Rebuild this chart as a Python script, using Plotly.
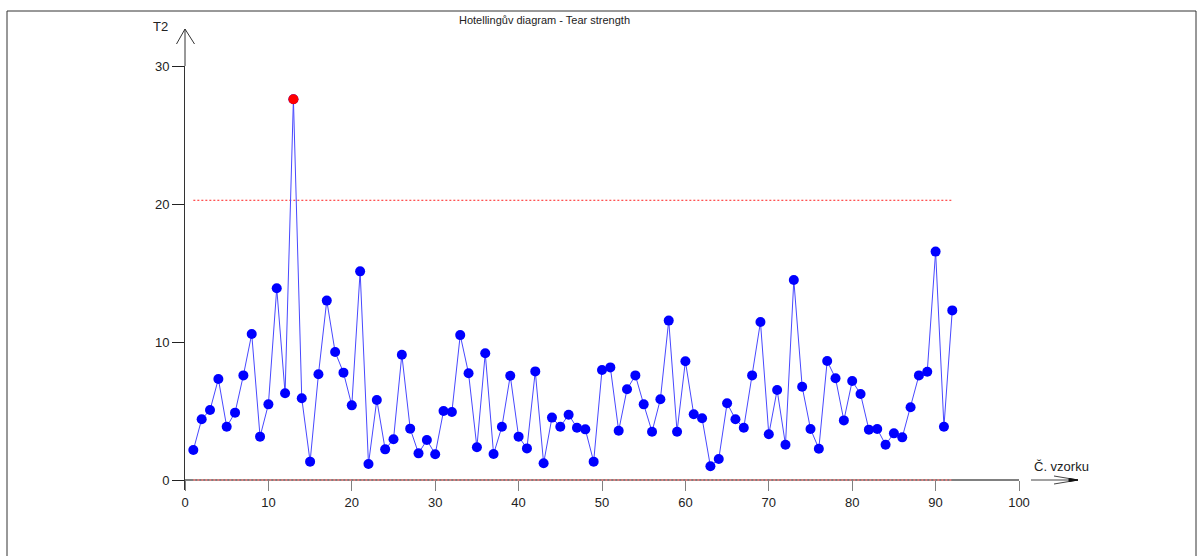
import plotly.graph_objects as go

# ---- data ----
sample_no = list(range(1, 93))
t2_values = [
    2.17, 4.40, 5.07, 7.32, 3.86, 4.88, 7.58, 10.58, 3.14, 5.48,
    13.89, 6.28, 27.59, 5.92, 1.33, 7.66, 13.00, 9.28, 7.78, 5.41,
    15.12, 1.16, 5.80, 2.22, 2.95, 9.08, 3.72, 1.93, 2.90, 1.87,
    5.00, 4.93, 10.50, 7.73, 2.37, 9.18, 1.88, 3.86, 7.56, 3.14,
    2.29, 7.87, 1.21, 4.52, 3.86, 4.73, 3.79, 3.67, 1.33, 7.97,
    8.16, 3.57, 6.57, 7.58, 5.48, 3.50, 5.85, 11.55, 3.50, 8.60,
    4.76, 4.47, 0.99, 1.52, 5.56, 4.40, 3.79, 7.58, 11.45, 3.31,
    6.52, 2.56, 14.49, 6.76, 3.70, 2.27, 8.62, 7.37, 4.32, 7.17,
    6.23, 3.65, 3.70, 2.56, 3.38, 3.09, 5.27, 7.58, 7.85, 16.55,
    3.86, 12.29,
]
ucl = 20.27
lcl = 0.0
x_ticks = [0, 10, 20, 30, 40, 50, 60, 70, 80, 90, 100]
y_ticks = [0, 10, 20, 30]
title_text = "Hotellingův diagram - Tear strength"
x_label = "Č. vzorku"
y_label = "T2"

FONT = "Liberation Sans Narrow, Arial Narrow, Liberation Sans, Arial, sans-serif"
TXT = "#222222"

W, H = 1197, 556
L, R, T, B = 185, 178, 66, 66
y_min = -0.725
y_max = 30

def px(xp):
    return (xp - L) / (W - L - R)

def py(yp):
    return (H - B - yp) / (H - T - B)

out_x = [x for x, v in zip(sample_no, t2_values) if v > ucl]
out_y = [v for v in t2_values if v > ucl]

fig = go.Figure()

# control limits
fig.add_trace(go.Scatter(x=[sample_no[0], sample_no[-1]], y=[ucl, ucl], mode="lines",
                         line=dict(color="#ff2020", width=1, dash="2px,2px"),
                         hoverinfo="skip", showlegend=False))
fig.add_trace(go.Scatter(x=[sample_no[0], sample_no[-1]], y=[lcl, lcl], mode="lines",
                         line=dict(color="#ff8080", width=1.5, dash="2px,2px"),
                         hoverinfo="skip", showlegend=False))

# T2 series
fig.add_trace(go.Scatter(x=sample_no, y=t2_values, mode="lines+markers",
                         line=dict(color="#4848ff", width=1),
                         marker=dict(color="#0000ff", size=10),
                         showlegend=False))
fig.add_trace(go.Scatter(x=out_x, y=out_y, mode="markers",
                         marker=dict(color="#ff0000", size=10),
                         showlegend=False))

shapes = [
    # frame
    dict(type="rect", xref="paper", yref="paper",
         x0=px(7), x1=px(1196), y0=py(620), y1=py(11),
         line=dict(color="#333333", width=1), fillcolor="rgba(0,0,0,0)", layer="below"),
    # y axis extension + arrow
    dict(type="path", xref="paper", yref="paper",
         path=f"M {px(185)},{py(66)} L {px(185)},{py(29)} "
              f"M {px(176.5)},{py(44)} L {px(185)},{py(29)} L {px(194.5)},{py(44)}",
         line=dict(color="#333333", width=1)),
    # x arrow
    dict(type="path", xref="paper", yref="paper",
         path=f"M {px(1031)},{py(480)} L {px(1078)},{py(480)} "
              f"M {px(1054)},{py(476)} L {px(1078)},{py(480)} L {px(1054)},{py(484)}",
         line=dict(color="#444444", width=1)),
    dict(type="path", xref="paper", yref="paper",
         path=f"M {px(1069)},{py(478.5)} L {px(1078)},{py(480)} L {px(1069)},{py(481.5)} Z",
         line=dict(color="#111111", width=1), fillcolor="#111111"),
]

annotations = [
    dict(text=title_text, xref="paper", yref="paper", x=px(544), y=py(20),
         xanchor="center", yanchor="middle", showarrow=False,
         font=dict(family=FONT, size=11, color=TXT)),
    dict(text=y_label, xref="paper", yref="paper", x=px(160), y=py(27),
         xanchor="center", yanchor="middle", showarrow=False,
         font=dict(family=FONT, size=13, color=TXT)),
    dict(text=x_label, xref="paper", yref="paper", x=px(1061), y=py(466),
         xanchor="center", yanchor="middle", showarrow=False,
         font=dict(family=FONT, size=13, color=TXT)),
]

fig.update_layout(
    width=W, height=H, autosize=False,
    margin=dict(l=L, r=R, t=T, b=B, pad=0, autoexpand=False),
    paper_bgcolor="white", plot_bgcolor="white",
    shapes=shapes, annotations=annotations,
    xaxis=dict(range=[0, 100], tickvals=x_ticks, ticks="outside", ticklen=10,
               tickcolor="#808080", tickwidth=1, showline=True, linecolor="#808080",
               linewidth=2, showgrid=False, zeroline=False, anchor="free",
               position=(0 - y_min) / (y_max - y_min), layer="below traces",
               tickfont=dict(family=FONT, size=13, color=TXT)),
    yaxis=dict(range=[y_min, y_max], tickvals=y_ticks, ticks="outside", ticklen=12,
               tickcolor="#222222", tickwidth=1, showline=True, linecolor="#333333",
               linewidth=1, showgrid=False, zeroline=False,
               tickfont=dict(family=FONT, size=13, color=TXT)),
)

fig.write_html("out.html")
